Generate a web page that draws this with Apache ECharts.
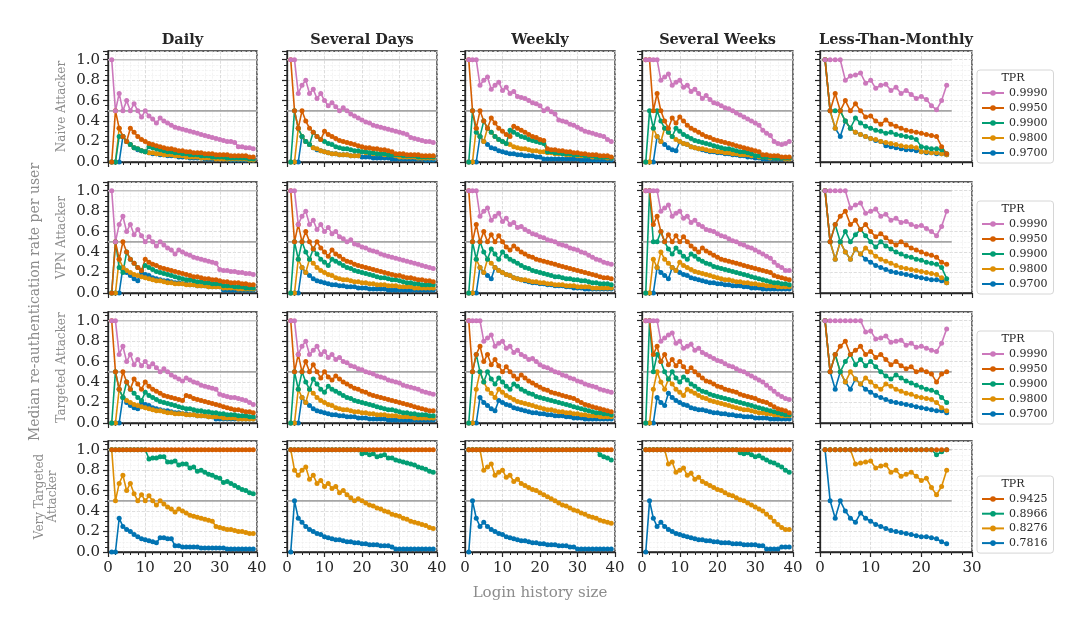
<!DOCTYPE html>
<html>
<head>
<meta charset="utf-8">
<script src="https://cdn.jsdelivr.net/npm/echarts@6/dist/echarts.min.js"></script>
<style>
  html, body { margin: 0; padding: 0; background: #fff; }
  #chart { width: 1076px; height: 626px; }
</style>
</head>
<body>
<div id="chart"></div>
<script>
// column / row headings
const columnTitles = ['Daily', 'Several Days', 'Weekly', 'Several Weeks', 'Less-Than-Monthly'];
const rowTitles = ['Naive Attacker', 'VPN Attacker', 'Targeted Attacker', 'Very Targeted\nAttacker'];
const tprNames = ['0.9990', '0.9950', '0.9900', '0.9800', '0.9700'];
const tprNamesVeryTargeted = ['0.9425', '0.8966', '0.8276', '0.7816'];
const refLevels = [1.0, 0.5];

// each panel: one list per TPR (legend order), value at login history size 1, 2, 3, ...
const naiveDaily = [
  [1,0.5,0.67,0.5,0.6,0.5,0.57,0.5,0.44,0.5,0.45,0.42,0.38,0.43,0.4,0.38,0.36,0.34,0.33,0.32,0.31,0.3,0.29,0.28,0.27,0.26,0.25,0.24,0.23,0.22,0.21,0.2,0.2,0.19,0.15,0.15,0.14,0.14,0.13],
  [0,0.5,0.33,0.25,0.2,0.33,0.29,0.25,0.22,0.2,0.18,0.17,0.16,0.15,0.14,0.13,0.13,0.12,0.11,0.11,0.1,0.1,0.09,0.09,0.09,0.08,0.08,0.08,0.07,0.07,0.07,0.07,0.06,0.06,0.06,0.06,0.06,0.05,0.05],
  [0,0,0.25,0.25,0.2,0.17,0.14,0.13,0.11,0.1,0.15,0.14,0.13,0.12,0.11,0.1,0.1,0.09,0.09,0.08,0.08,0.07,0.07,0.07,0.06,0.06,0.06,0.05,0.05,0.05,0.05,0.04,0.04,0.04,0.04,0.04,0.04,0.03,0.03],
  [0,0,0.33,0.25,0.2,0.17,0.14,0.13,0.11,0.1,0.09,0.09,0.08,0.08,0.07,0.07,0.07,0.06,0.06,0.06,0.05,0.05,0.05,0.05,0.04,0.04,0.04,0.04,0.03,0.03,0.03,0.03,0.03,0.03,0.03,0.03,0.03,0.02,0.02],
  [0,0,0,0.25,0.2,0.17,0.14,0.12,0.11,0.1,0.09,0.08,0.08,0.07,0.07,0.06,0.06,0.06,0.05,0.05,0.05,0.04,0.04,0.04,0.04,0.03,0.03,0.03,0.03,0.03,0.03,0.03,0.02,0.02,0.02,0.02,0.02,0.02,0.02]
];
const naiveSeveralDays = [
  [1,1,0.67,0.75,0.8,0.67,0.71,0.62,0.67,0.6,0.55,0.58,0.54,0.5,0.53,0.5,0.47,0.45,0.43,0.41,0.39,0.38,0.36,0.35,0.34,0.33,0.32,0.31,0.3,0.29,0.28,0.27,0.24,0.23,0.22,0.21,0.2,0.2,0.19],
  [1,0.5,0.33,0.5,0.4,0.33,0.29,0.25,0.22,0.3,0.27,0.25,0.23,0.21,0.2,0.19,0.18,0.17,0.16,0.15,0.14,0.14,0.13,0.13,0.12,0.12,0.11,0.1,0.08,0.08,0.08,0.07,0.07,0.07,0.07,0.06,0.06,0.06,0.06],
  [0,0.5,0.33,0.25,0.2,0.17,0.29,0.25,0.22,0.2,0.18,0.17,0.15,0.14,0.13,0.13,0.12,0.11,0.11,0.1,0.1,0.09,0.09,0.08,0.08,0.08,0.07,0.07,0.07,0.07,0.06,0.06,0.06,0.06,0.05,0.05,0.05,0.05,0.05],
  [0,0,0.33,0.25,0.2,0.17,0.14,0.13,0.11,0.1,0.09,0.08,0.08,0.07,0.07,0.07,0.06,0.06,0.06,0.1,0.09,0.09,0.08,0.08,0.08,0.07,0.07,0.07,0.06,0.05,0.05,0.05,0.05,0.05,0.04,0.04,0.04,0.04,0.04],
  [0,0,0,0.25,0.2,0.17,0.14,0.12,0.11,0.1,0.09,0.08,0.08,0.07,0.07,0.07,0.06,0.06,0.06,0.05,0.05,0.05,0.04,0.04,0.04,0.04,0.04,0.03,0.03,0.03,0.03,0.03,0.03,0.03,0.03,0.03,0.02,0.02,0.02]
];
const naiveWeekly = [
  [1,1,1,0.75,0.8,0.83,0.71,0.75,0.78,0.7,0.73,0.67,0.69,0.64,0.63,0.62,0.6,0.58,0.57,0.55,0.5,0.52,0.49,0.47,0.41,0.4,0.39,0.37,0.36,0.34,0.32,0.3,0.29,0.28,0.27,0.26,0.25,0.22,0.2],
  [1,0.5,0.33,0.5,0.4,0.33,0.43,0.38,0.33,0.3,0.27,0.25,0.35,0.33,0.31,0.29,0.27,0.25,0.24,0.22,0.21,0.13,0.12,0.12,0.11,0.11,0.1,0.1,0.09,0.09,0.08,0.08,0.07,0.07,0.07,0.06,0.06,0.06,0.05],
  [0,0.5,0.29,0.25,0.4,0.33,0.29,0.25,0.22,0.2,0.18,0.31,0.29,0.27,0.25,0.24,0.22,0.21,0.2,0.19,0.18,0.1,0.1,0.09,0.09,0.08,0.08,0.08,0.07,0.07,0.07,0.06,0.06,0.06,0.05,0.05,0.05,0.05,0.04],
  [0,0,0.33,0.25,0.2,0.33,0.29,0.25,0.22,0.2,0.18,0.17,0.15,0.14,0.13,0.13,0.12,0.11,0.11,0.1,0.1,0.09,0.09,0.08,0.08,0.08,0.07,0.07,0.07,0.06,0.06,0.06,0.06,0.05,0.05,0.05,0.05,0.04,0.04],
  [0,0,0,0.25,0.2,0.17,0.14,0.13,0.11,0.1,0.09,0.08,0.08,0.07,0.07,0.06,0.06,0.06,0.05,0.05,0.03,0.03,0.03,0.03,0.03,0.03,0.03,0.03,0.03,0.03,0.02,0.02,0.02,0.02,0.02,0.02,0.02,0.02,0.02]
];
const naiveSeveralWeeks = [
  [1,1,1,1,0.8,0.83,0.86,0.75,0.78,0.8,0.73,0.75,0.69,0.71,0.67,0.62,0.65,0.61,0.58,0.57,0.55,0.53,0.52,0.5,0.48,0.46,0.44,0.42,0.4,0.38,0.36,0.31,0.28,0.26,0.2,0.18,0.17,0.18,0.2],
  [1,1,0.5,0.67,0.5,0.4,0.33,0.43,0.38,0.44,0.4,0.36,0.33,0.31,0.29,0.27,0.25,0.24,0.22,0.21,0.2,0.19,0.18,0.17,0.16,0.15,0.14,0.13,0.12,0.11,0.1,0.07,0.07,0.06,0.06,0.06,0.05,0.05,0.05],
  [0,0.5,0.33,0.5,0.4,0.33,0.29,0.25,0.33,0.3,0.27,0.25,0.23,0.21,0.2,0.19,0.18,0.17,0.16,0.15,0.14,0.13,0.13,0.12,0.11,0.1,0.1,0.09,0.08,0.06,0.06,0.05,0.05,0.05,0.04,0.04,0.04,0.04,0.04],
  [0,0,0.33,0.25,0.2,0.33,0.29,0.25,0.22,0.2,0.18,0.17,0.15,0.14,0.13,0.13,0.12,0.11,0.11,0.1,0.1,0.09,0.09,0.08,0.08,0.07,0.07,0.07,0.06,0.06,0.05,0.05,0.05,0.04,0.04,0.04,0.04,0.03,0.03],
  [0,0,0,0.25,0.2,0.17,0.14,0.12,0.11,0.2,0.18,0.17,0.15,0.14,0.13,0.12,0.11,0.1,0.1,0.09,0.09,0.08,0.08,0.07,0.07,0.06,0.06,0.05,0.05,0.04,0.04,0.03,0.03,0.03,0.03,0.03,0.03,0.03,0.03]
];
const naiveMonthly = [
  [1,1,1,1,0.8,0.84,0.85,0.87,0.77,0.8,0.72,0.75,0.76,0.7,0.73,0.67,0.7,0.66,0.62,0.64,0.61,0.55,0.51,0.6,0.75],
  [1,0.5,0.67,0.5,0.6,0.5,0.57,0.5,0.44,0.45,0.4,0.37,0.41,0.37,0.35,0.33,0.31,0.3,0.29,0.28,0.27,0.26,0.25,0.15,0.08],
  [1,0.5,0.5,0.5,0.4,0.33,0.43,0.38,0.35,0.33,0.31,0.3,0.28,0.29,0.27,0.26,0.25,0.24,0.22,0.15,0.14,0.13,0.13,0.12,0.08],
  [1,0.5,0.33,0.5,0.4,0.33,0.29,0.27,0.25,0.23,0.22,0.2,0.19,0.18,0.17,0.16,0.15,0.15,0.14,0.1,0.1,0.09,0.09,0.08,0.07],
  [1,0.5,0.33,0.25,0.4,0.33,0.29,0.27,0.25,0.23,0.21,0.2,0.16,0.15,0.14,0.13,0.12,0.12,0.11,0.1,0.09,0.09,0.08,0.08,0.07]
];

const vpnDaily = [
  [1,0.5,0.67,0.75,0.6,0.67,0.57,0.62,0.56,0.5,0.55,0.5,0.46,0.5,0.47,0.44,0.42,0.38,0.42,0.4,0.38,0.37,0.35,0.34,0.33,0.32,0.31,0.3,0.29,0.23,0.22,0.22,0.21,0.21,0.2,0.2,0.19,0.19,0.18],
  [0,0.5,0.33,0.5,0.4,0.33,0.29,0.25,0.22,0.33,0.3,0.28,0.27,0.25,0.24,0.23,0.22,0.21,0.2,0.19,0.18,0.17,0.16,0.16,0.15,0.14,0.14,0.13,0.13,0.12,0.11,0.11,0.1,0.1,0.1,0.09,0.09,0.08,0.08],
  [0,0.5,0.25,0.2,0.4,0.33,0.29,0.25,0.22,0.27,0.25,0.23,0.21,0.2,0.19,0.18,0.17,0.16,0.15,0.14,0.13,0.13,0.12,0.11,0.11,0.1,0.1,0.09,0.09,0.09,0.07,0.07,0.07,0.06,0.06,0.06,0.05,0.05,0.05],
  [0,0,0.33,0.25,0.22,0.2,0.18,0.17,0.16,0.15,0.14,0.13,0.12,0.12,0.11,0.1,0.1,0.09,0.09,0.09,0.08,0.08,0.08,0.07,0.07,0.07,0.06,0.06,0.06,0.06,0.05,0.05,0.05,0.05,0.04,0.04,0.04,0.04,0.04],
  [0,0,0,0.25,0.2,0.17,0.14,0.12,0.2,0.18,0.17,0.15,0.14,0.13,0.12,0.12,0.11,0.1,0.1,0.09,0.09,0.08,0.08,0.07,0.07,0.07,0.06,0.06,0.06,0.06,0.03,0.03,0.03,0.03,0.03,0.03,0.03,0.03,0.03]
];
const vpnSeveralDays = [
  [1,1,0.67,0.75,0.8,0.67,0.71,0.62,0.67,0.6,0.64,0.58,0.6,0.55,0.53,0.5,0.52,0.48,0.47,0.45,0.44,0.42,0.41,0.4,0.38,0.37,0.36,0.35,0.34,0.33,0.32,0.31,0.3,0.29,0.28,0.27,0.26,0.25,0.24],
  [1,0.5,0.67,0.5,0.6,0.5,0.43,0.5,0.44,0.4,0.36,0.42,0.38,0.36,0.33,0.31,0.3,0.28,0.27,0.26,0.25,0.24,0.23,0.22,0.21,0.2,0.19,0.18,0.17,0.17,0.16,0.15,0.15,0.14,0.13,0.13,0.12,0.12,0.11],
  [0,0.5,0.33,0.5,0.4,0.33,0.43,0.38,0.33,0.3,0.27,0.33,0.31,0.29,0.27,0.25,0.24,0.22,0.21,0.2,0.19,0.18,0.17,0.16,0.15,0.15,0.14,0.13,0.13,0.12,0.11,0.1,0.1,0.09,0.09,0.08,0.08,0.08,0.08],
  [0,0,0.33,0.25,0.2,0.33,0.29,0.25,0.22,0.2,0.18,0.17,0.15,0.14,0.13,0.13,0.12,0.11,0.11,0.1,0.1,0.09,0.09,0.08,0.08,0.08,0.07,0.07,0.07,0.06,0.06,0.06,0.06,0.05,0.05,0.05,0.05,0.05,0.05],
  [0,0,0,0.25,0.2,0.17,0.14,0.12,0.11,0.1,0.09,0.08,0.08,0.07,0.07,0.06,0.06,0.06,0.05,0.05,0.05,0.04,0.04,0.04,0.04,0.04,0.03,0.03,0.03,0.03,0.03,0.03,0.03,0.03,0.03,0.03,0.03,0.03,0.03]
];
const vpnWeekly = [
  [1,1,1,0.75,0.8,0.83,0.71,0.75,0.78,0.7,0.73,0.67,0.69,0.64,0.65,0.62,0.6,0.58,0.57,0.55,0.54,0.52,0.51,0.5,0.48,0.47,0.46,0.44,0.43,0.42,0.4,0.39,0.37,0.35,0.33,0.32,0.3,0.29,0.28],
  [1,0.5,0.67,0.5,0.6,0.5,0.57,0.5,0.56,0.5,0.45,0.42,0.46,0.43,0.4,0.38,0.36,0.35,0.33,0.32,0.31,0.3,0.29,0.28,0.27,0.26,0.25,0.24,0.23,0.22,0.21,0.2,0.19,0.18,0.17,0.16,0.15,0.15,0.14],
  [0,0.5,0.33,0.5,0.4,0.33,0.43,0.38,0.33,0.4,0.36,0.33,0.31,0.29,0.27,0.25,0.24,0.22,0.21,0.2,0.19,0.18,0.17,0.16,0.16,0.15,0.14,0.14,0.13,0.13,0.12,0.12,0.11,0.1,0.1,0.09,0.09,0.09,0.08],
  [0,0,0.33,0.25,0.2,0.33,0.29,0.25,0.22,0.2,0.18,0.17,0.15,0.14,0.13,0.13,0.12,0.11,0.11,0.1,0.1,0.09,0.09,0.08,0.08,0.08,0.07,0.07,0.07,0.06,0.06,0.06,0.06,0.05,0.05,0.05,0.05,0.05,0.05],
  [0,0,0,0.25,0.2,0.17,0.14,0.25,0.22,0.2,0.18,0.17,0.15,0.14,0.13,0.12,0.11,0.1,0.1,0.09,0.09,0.08,0.08,0.07,0.07,0.07,0.06,0.06,0.05,0.05,0.05,0.04,0.04,0.04,0.04,0.04,0.04,0.04,0.04]
];
const vpnSeveralWeeks = [
  [1,1,1,1,0.8,0.83,0.86,0.75,0.78,0.8,0.73,0.75,0.69,0.71,0.67,0.65,0.62,0.61,0.6,0.58,0.56,0.55,0.53,0.51,0.5,0.48,0.47,0.45,0.44,0.42,0.4,0.38,0.36,0.34,0.3,0.27,0.25,0.22,0.22],
  [1,1,0.67,0.75,0.6,0.5,0.57,0.5,0.56,0.5,0.55,0.5,0.46,0.43,0.4,0.44,0.41,0.39,0.37,0.35,0.33,0.32,0.31,0.3,0.29,0.28,0.27,0.26,0.25,0.24,0.23,0.22,0.21,0.2,0.17,0.16,0.15,0.14,0.13],
  [0,1,0.5,0.5,0.6,0.5,0.43,0.38,0.44,0.4,0.36,0.33,0.38,0.36,0.33,0.31,0.29,0.28,0.26,0.25,0.24,0.23,0.22,0.21,0.2,0.19,0.18,0.17,0.16,0.15,0.14,0.13,0.12,0.11,0.1,0.1,0.09,0.09,0.08],
  [0,0,0.33,0.25,0.4,0.33,0.29,0.25,0.22,0.3,0.27,0.25,0.23,0.21,0.2,0.19,0.18,0.17,0.16,0.15,0.14,0.13,0.13,0.12,0.11,0.11,0.1,0.1,0.09,0.09,0.08,0.08,0.07,0.07,0.07,0.06,0.06,0.06,0.06],
  [0,0,0,0.25,0.2,0.17,0.14,0.25,0.22,0.2,0.18,0.17,0.15,0.14,0.13,0.12,0.11,0.1,0.1,0.09,0.09,0.08,0.08,0.07,0.07,0.07,0.06,0.06,0.05,0.05,0.05,0.04,0.04,0.04,0.04,0.04,0.04,0.04,0.04]
];
const vpnMonthly = [
  [1,1,1,1,1,0.83,0.86,0.88,0.78,0.8,0.82,0.75,0.77,0.71,0.73,0.69,0.7,0.67,0.65,0.66,0.63,0.6,0.56,0.65,0.8],
  [1,0.5,0.67,0.75,0.8,0.67,0.71,0.62,0.67,0.6,0.55,0.58,0.54,0.5,0.47,0.5,0.47,0.44,0.42,0.4,0.38,0.37,0.35,0.3,0.28],
  [1,0.5,0.67,0.5,0.6,0.5,0.57,0.62,0.56,0.5,0.45,0.5,0.46,0.43,0.4,0.38,0.36,0.35,0.33,0.32,0.3,0.29,0.28,0.25,0.14],
  [1,0.5,0.33,0.5,0.4,0.33,0.43,0.38,0.44,0.4,0.36,0.33,0.31,0.29,0.27,0.25,0.24,0.23,0.22,0.21,0.2,0.19,0.18,0.15,0.1],
  [1,0.5,0.33,0.5,0.4,0.33,0.43,0.38,0.33,0.3,0.27,0.25,0.23,0.21,0.2,0.19,0.18,0.17,0.16,0.15,0.14,0.13,0.13,0.12,0.1]
];

const targetedDaily = [
  [1,1,0.67,0.75,0.6,0.67,0.57,0.62,0.56,0.6,0.55,0.58,0.54,0.5,0.53,0.5,0.47,0.45,0.43,0.41,0.44,0.42,0.4,0.39,0.37,0.36,0.35,0.34,0.33,0.28,0.27,0.26,0.25,0.25,0.24,0.23,0.22,0.2,0.18],
  [1,0.5,0.33,0.5,0.4,0.33,0.43,0.38,0.33,0.4,0.36,0.33,0.31,0.29,0.27,0.26,0.25,0.24,0.23,0.22,0.27,0.26,0.24,0.23,0.22,0.21,0.2,0.19,0.18,0.17,0.16,0.15,0.14,0.13,0.13,0.12,0.11,0.11,0.1],
  [0,0.5,0.33,0.25,0.4,0.33,0.29,0.25,0.22,0.3,0.27,0.25,0.23,0.21,0.2,0.19,0.18,0.17,0.16,0.15,0.14,0.14,0.13,0.12,0.12,0.11,0.11,0.1,0.1,0.09,0.09,0.08,0.08,0.08,0.07,0.07,0.07,0.06,0.06],
  [0,0,0.33,0.25,0.22,0.2,0.18,0.17,0.16,0.15,0.14,0.13,0.12,0.12,0.11,0.1,0.1,0.09,0.09,0.09,0.08,0.08,0.08,0.07,0.07,0.07,0.06,0.06,0.06,0.06,0.05,0.05,0.05,0.05,0.04,0.04,0.04,0.04,0.04],
  [0,0,0,0.25,0.2,0.17,0.15,0.14,0.2,0.18,0.17,0.15,0.14,0.13,0.12,0.12,0.11,0.1,0.1,0.09,0.09,0.08,0.08,0.07,0.07,0.07,0.06,0.06,0.04,0.04,0.04,0.04,0.04,0.04,0.04,0.04,0.04,0.04,0.04]
];
const targetedSeveralDays = [
  [1,1,0.67,0.75,0.8,0.67,0.71,0.75,0.67,0.7,0.64,0.67,0.62,0.64,0.6,0.59,0.56,0.55,0.53,0.52,0.5,0.49,0.48,0.46,0.45,0.44,0.42,0.41,0.4,0.39,0.37,0.36,0.35,0.34,0.33,0.31,0.3,0.29,0.28],
  [1,0.5,0.67,0.5,0.6,0.5,0.57,0.5,0.44,0.5,0.45,0.42,0.46,0.43,0.4,0.38,0.36,0.34,0.33,0.31,0.3,0.28,0.27,0.26,0.25,0.24,0.23,0.22,0.21,0.2,0.19,0.18,0.17,0.16,0.15,0.14,0.13,0.12,0.12],
  [0,0.5,0.33,0.5,0.4,0.33,0.43,0.38,0.33,0.3,0.36,0.33,0.31,0.29,0.27,0.25,0.24,0.22,0.21,0.2,0.19,0.18,0.17,0.16,0.15,0.14,0.13,0.13,0.12,0.11,0.1,0.1,0.09,0.09,0.08,0.08,0.08,0.07,0.07],
  [0,0,0.33,0.25,0.2,0.33,0.29,0.25,0.22,0.2,0.18,0.17,0.15,0.14,0.13,0.13,0.12,0.11,0.11,0.1,0.1,0.09,0.09,0.08,0.08,0.08,0.07,0.07,0.07,0.06,0.06,0.06,0.06,0.05,0.05,0.05,0.05,0.05,0.05],
  [0,0,0,0.25,0.2,0.17,0.14,0.12,0.11,0.1,0.09,0.08,0.08,0.07,0.07,0.06,0.06,0.06,0.05,0.05,0.05,0.04,0.04,0.04,0.04,0.04,0.03,0.03,0.03,0.03,0.03,0.03,0.03,0.03,0.03,0.03,0.03,0.03,0.03]
];
const targetedWeekly = [
  [1,1,1,1,0.8,0.83,0.86,0.75,0.78,0.8,0.73,0.75,0.69,0.71,0.67,0.65,0.62,0.63,0.6,0.57,0.55,0.54,0.52,0.5,0.49,0.47,0.46,0.44,0.43,0.41,0.4,0.38,0.37,0.36,0.35,0.33,0.32,0.31,0.3],
  [1,0.5,0.67,0.75,0.6,0.67,0.57,0.62,0.56,0.5,0.55,0.5,0.46,0.43,0.47,0.44,0.41,0.39,0.37,0.35,0.33,0.32,0.3,0.29,0.28,0.27,0.26,0.25,0.24,0.22,0.2,0.18,0.17,0.16,0.15,0.14,0.13,0.12,0.11],
  [0,0.5,0.67,0.5,0.4,0.5,0.43,0.38,0.44,0.4,0.36,0.33,0.38,0.36,0.33,0.31,0.29,0.28,0.26,0.25,0.24,0.23,0.22,0.21,0.2,0.19,0.18,0.17,0.16,0.15,0.14,0.13,0.12,0.11,0.1,0.1,0.09,0.09,0.08],
  [0,0,0.33,0.5,0.4,0.33,0.29,0.25,0.33,0.3,0.27,0.25,0.23,0.21,0.2,0.19,0.18,0.17,0.16,0.15,0.14,0.13,0.13,0.12,0.11,0.11,0.1,0.1,0.09,0.09,0.08,0.08,0.07,0.07,0.07,0.06,0.06,0.06,0.06],
  [0,0,0,0.25,0.2,0.17,0.14,0.12,0.22,0.2,0.18,0.17,0.15,0.14,0.13,0.12,0.11,0.1,0.1,0.09,0.09,0.08,0.08,0.07,0.07,0.07,0.06,0.06,0.05,0.05,0.05,0.04,0.04,0.04,0.04,0.04,0.04,0.04,0.04]
];
const targetedSeveralWeeks = [
  [1,1,1,1,0.8,0.83,0.86,0.88,0.78,0.8,0.73,0.75,0.77,0.71,0.73,0.69,0.67,0.65,0.63,0.61,0.6,0.58,0.56,0.55,0.53,0.51,0.5,0.48,0.46,0.44,0.42,0.4,0.37,0.34,0.31,0.28,0.26,0.24,0.23],
  [1,1,0.67,0.75,0.6,0.67,0.57,0.62,0.56,0.6,0.55,0.5,0.54,0.5,0.47,0.44,0.41,0.4,0.38,0.36,0.35,0.33,0.32,0.31,0.3,0.28,0.27,0.26,0.25,0.24,0.22,0.21,0.2,0.18,0.16,0.14,0.13,0.12,0.1],
  [0,1,0.5,0.67,0.6,0.5,0.43,0.5,0.44,0.4,0.45,0.42,0.38,0.36,0.33,0.31,0.3,0.28,0.27,0.26,0.25,0.24,0.23,0.22,0.21,0.2,0.19,0.18,0.17,0.16,0.15,0.14,0.13,0.12,0.11,0.1,0.09,0.08,0.08],
  [0,0,0.33,0.5,0.4,0.33,0.43,0.38,0.33,0.3,0.27,0.33,0.31,0.29,0.27,0.25,0.24,0.22,0.21,0.2,0.19,0.18,0.17,0.16,0.15,0.14,0.13,0.13,0.12,0.11,0.1,0.1,0.09,0.09,0.08,0.08,0.07,0.07,0.07],
  [0,0,0,0.25,0.2,0.17,0.29,0.25,0.22,0.2,0.18,0.17,0.15,0.14,0.13,0.13,0.12,0.11,0.1,0.1,0.09,0.09,0.08,0.08,0.07,0.07,0.06,0.06,0.06,0.05,0.05,0.05,0.05,0.04,0.04,0.04,0.04,0.04,0.04]
];
const targetedMonthly = [
  [1,1,1,1,1,1,1,1,0.89,0.9,0.82,0.83,0.85,0.79,0.8,0.81,0.76,0.78,0.74,0.75,0.73,0.71,0.7,0.78,0.92],
  [1,0.5,0.67,0.75,0.8,0.67,0.71,0.75,0.67,0.7,0.64,0.67,0.62,0.57,0.6,0.56,0.53,0.55,0.5,0.52,0.5,0.48,0.4,0.48,0.5],
  [1,0.5,0.67,0.5,0.6,0.67,0.57,0.62,0.56,0.6,0.55,0.5,0.46,0.43,0.47,0.44,0.41,0.39,0.37,0.35,0.33,0.32,0.3,0.25,0.2],
  [1,0.5,0.67,0.5,0.4,0.5,0.43,0.38,0.44,0.4,0.36,0.33,0.38,0.36,0.33,0.31,0.29,0.28,0.26,0.25,0.24,0.23,0.2,0.15,0.12],
  [1,0.5,0.33,0.5,0.4,0.33,0.43,0.38,0.33,0.3,0.27,0.25,0.23,0.21,0.2,0.19,0.18,0.17,0.16,0.15,0.14,0.13,0.12,0.12,0.1]
];

const veryTargetedDaily = [
  [1,1,1,1,1,1,1,1,1,1,1,1,1,1,1,1,1,1,1,1,1,1,1,1,1,1,1,1,1,1,1,1,1,1,1,1,1,1,1],
  [1,1,1,1,1,1,1,1,1,1,0.91,0.92,0.92,0.93,0.93,0.88,0.88,0.89,0.85,0.86,0.86,0.82,0.83,0.79,0.8,0.78,0.76,0.75,0.73,0.72,0.68,0.69,0.67,0.65,0.63,0.61,0.6,0.58,0.57],
  [1,0.5,0.67,0.75,0.6,0.67,0.57,0.5,0.56,0.5,0.55,0.5,0.46,0.5,0.47,0.44,0.42,0.39,0.42,0.4,0.38,0.36,0.35,0.34,0.33,0.32,0.31,0.3,0.25,0.24,0.23,0.22,0.22,0.21,0.2,0.2,0.19,0.18,0.18],
  [0,0,0.33,0.25,0.22,0.2,0.17,0.15,0.13,0.12,0.11,0.1,0.09,0.14,0.14,0.13,0.13,0.06,0.06,0.05,0.05,0.05,0.05,0.05,0.04,0.04,0.04,0.04,0.04,0.04,0.04,0.03,0.03,0.03,0.03,0.03,0.03,0.03,0.03]
];
const veryTargetedSeveralDays = [
  [1,1,1,1,1,1,1,1,1,1,1,1,1,1,1,1,1,1,1,1,1,1,1,1,1,1,1,1,1,1,1,1,1,1,1,1,1,1,1],
  [1,1,1,1,1,1,1,1,1,1,1,1,1,1,1,1,1,1,1,0.96,0.97,0.95,0.96,0.93,0.94,0.95,0.92,0.92,0.9,0.89,0.88,0.87,0.86,0.85,0.83,0.82,0.81,0.79,0.78],
  [1,0.8,0.75,0.8,0.83,0.71,0.75,0.67,0.7,0.64,0.67,0.62,0.64,0.58,0.6,0.56,0.53,0.5,0.52,0.5,0.48,0.46,0.45,0.43,0.42,0.4,0.39,0.37,0.36,0.35,0.33,0.32,0.3,0.29,0.28,0.27,0.26,0.24,0.23],
  [0,0.5,0.33,0.29,0.25,0.22,0.2,0.18,0.17,0.15,0.14,0.13,0.12,0.12,0.11,0.1,0.1,0.09,0.09,0.08,0.08,0.07,0.07,0.07,0.06,0.06,0.06,0.05,0.03,0.03,0.03,0.03,0.03,0.03,0.03,0.03,0.03,0.03,0.03]
];
const veryTargetedWeekly = [
  [1,1,1,1,1,1,1,1,1,1,1,1,1,1,1,1,1,1,1,1,1,1,1,1,1,1,1,1,1,1,1,1,1,1,1,1,1,1,1],
  [1,1,1,1,1,1,1,1,1,1,1,1,1,1,1,1,1,1,1,1,1,1,1,1,1,1,1,1,1,1,1,1,1,1,1,0.95,0.93,0.92,0.9],
  [1,1,1,1,0.8,0.83,0.86,0.75,0.78,0.8,0.73,0.75,0.69,0.71,0.67,0.65,0.63,0.61,0.6,0.58,0.56,0.54,0.52,0.5,0.48,0.46,0.45,0.43,0.41,0.4,0.38,0.37,0.35,0.34,0.33,0.31,0.3,0.29,0.28],
  [0,0.5,0.33,0.25,0.29,0.25,0.22,0.2,0.18,0.17,0.15,0.14,0.13,0.12,0.11,0.11,0.1,0.09,0.09,0.08,0.08,0.07,0.07,0.07,0.06,0.06,0.06,0.05,0.05,0.03,0.03,0.03,0.03,0.03,0.03,0.03,0.03,0.03,0.03]
];
const veryTargetedSeveralWeeks = [
  [1,1,1,1,1,1,1,1,1,1,1,1,1,1,1,1,1,1,1,1,1,1,1,1,1,1,1,1,1,1,1,1,1,1,1,1,1,1,1],
  [1,1,1,1,1,1,1,1,1,1,1,1,1,1,1,1,1,1,1,1,1,1,1,1,1,0.97,0.96,0.97,0.95,0.93,0.94,0.92,0.9,0.88,0.87,0.85,0.83,0.8,0.78],
  [1,1,1,1,1,1,0.86,0.88,0.78,0.8,0.82,0.75,0.77,0.71,0.73,0.69,0.67,0.65,0.63,0.61,0.6,0.58,0.56,0.55,0.53,0.51,0.5,0.48,0.46,0.44,0.42,0.4,0.37,0.34,0.3,0.27,0.24,0.22,0.22],
  [0,0.5,0.33,0.25,0.29,0.25,0.22,0.2,0.18,0.17,0.16,0.15,0.14,0.13,0.12,0.12,0.11,0.11,0.1,0.1,0.09,0.09,0.09,0.08,0.08,0.08,0.07,0.07,0.07,0.07,0.06,0.06,0.03,0.03,0.03,0.03,0.05,0.05,0.05]
];
const veryTargetedMonthly = [
  [1,1,1,1,1,1,1,1,1,1,1,1,1,1,1,1,1,1,1,1,1,1,1,1,1],
  [1,1,1,1,1,1,1,1,1,1,1,1,1,1,1,1,1,1,1,1,1,1,0.95,0.98,1],
  [1,1,1,1,1,1,0.86,0.87,0.88,0.89,0.82,0.84,0.85,0.78,0.8,0.74,0.76,0.78,0.74,0.7,0.72,0.63,0.56,0.64,0.8],
  [1,0.5,0.33,0.5,0.4,0.33,0.29,0.38,0.33,0.3,0.27,0.25,0.23,0.21,0.2,0.19,0.18,0.17,0.16,0.15,0.15,0.14,0.13,0.1,0.08]
];

const panels = [
  [naiveDaily, naiveSeveralDays, naiveWeekly, naiveSeveralWeeks, naiveMonthly],
  [vpnDaily, vpnSeveralDays, vpnWeekly, vpnSeveralWeeks, vpnMonthly],
  [targetedDaily, targetedSeveralDays, targetedWeekly, targetedSeveralWeeks, targetedMonthly],
  [veryTargetedDaily, veryTargetedSeveralDays, veryTargetedWeekly, veryTargetedSeveralWeeks, veryTargetedMonthly]
];
const xMaxByColumn = [40, 40, 40, 40, 30];

// colorblind palette
const tprColors = ['#cc78bc', '#d55e00', '#029e73', '#de8f05', '#0173b2'];
const veryTargetedColors = ['#d55e00', '#029e73', '#de8f05', '#0173b2'];

// layout (px)
const gridLefts = [108, 287, 465, 642, 820];
const gridWidths = [149, 150, 150, 151, 152];
const gridTops = [51, 182, 312, 441];
const gridHeight = 111;
const legendTops = [70, 201, 331, 476];
const serif = 'DejaVu Serif';
const ink = '#262626';
const faded = '#8c8c8c';

const grids = [], xAxes = [], yAxes = [], series = [], legends = [], graphics = [];

panels.forEach((row, r) => {
  const names = r === 3 ? tprNamesVeryTargeted : tprNames;
  const colors = r === 3 ? veryTargetedColors : tprColors;
  row.forEach((panel, c) => {
    const idx = grids.length;
    grids.push({
      left: gridLefts[c], top: gridTops[r], width: gridWidths[c], height: gridHeight,
      show: true, borderColor: ink, borderWidth: 1.3, backgroundColor: 'transparent'
    });
    xAxes.push({
      gridIndex: idx, type: 'value', min: 0, max: xMaxByColumn[c], interval: 10,
      axisLine: { show: true, onZero: false, lineStyle: { color: ink, width: 1.3 } },
      axisTick: { show: true, length: 5, lineStyle: { color: ink, width: 1.2 } },
      minorTick: { show: true, splitNumber: 5, length: 3, lineStyle: { color: ink, width: 1 } },
      axisLabel: { show: r === 3, fontFamily: serif, fontSize: 15, color: ink, margin: 9 },
      splitLine: { show: true, lineStyle: { color: '#d4d4d4', type: 'dashed', width: 0.8 } },
      minorSplitLine: { show: true, lineStyle: { color: '#ededed', type: 'dashed', width: 0.6 } }
    });
    yAxes.push({
      gridIndex: idx, type: 'value', min: 0, max: 1.085, interval: 0.2,
      axisLine: { show: true, onZero: false, lineStyle: { color: ink, width: 1.3 } },
      axisTick: { show: true, length: 5, lineStyle: { color: ink, width: 1.2 } },
      minorTick: { show: true, splitNumber: 4, length: 3, lineStyle: { color: ink, width: 1 } },
      axisLabel: {
        show: c === 0, fontFamily: serif, fontSize: 15, color: ink, margin: 8, showMaxLabel: false,
        formatter: v => v.toFixed(1)
      },
      splitLine: { show: true, lineStyle: { color: '#d4d4d4', type: 'dashed', width: 0.8 } },
      minorSplitLine: { show: true, lineStyle: { color: '#ededed', type: 'dashed', width: 0.6 } }
    });

    // reference levels, running one step past the last history size
    const xEnd = panel[0].length + 1;
    refLevels.forEach((lv, k) => {
      series.push({
        type: 'line', xAxisIndex: idx, yAxisIndex: idx, silent: true, symbol: 'none',
        lineStyle: { color: k === 0 ? '#c4c4c4' : '#a6a6a6', width: 1.6 },
        data: [[0, lv], [xEnd, lv]], z: 1
      });
    });

    // lowest TPR first so the highest one ends up on top
    for (let s = panel.length - 1; s >= 0; s--) {
      series.push({
        type: 'line', name: names[s], xAxisIndex: idx, yAxisIndex: idx,
        data: panel[s].map((v, i) => [i + 1, v]),
        symbol: 'circle', symbolSize: 5,
        lineStyle: { color: colors[s], width: 1.6 },
        itemStyle: { color: colors[s] },
        emphasis: { disabled: true }
      });
    }

    if (r === 0) {
      graphics.push({
        type: 'text', x: gridLefts[c] + gridWidths[c] / 2, y: 40,
        style: { text: columnTitles[c], font: 'bold 14.5px "DejaVu Serif"', fill: ink, align: 'center', verticalAlign: 'middle' }
      });
    }
  });

  legends.push({
    orient: 'vertical', left: 977, top: legendTops[r], data: names,
    itemWidth: 22, itemHeight: 7, itemGap: r === 3 ? 2.7 : 3,
    padding: [17, 6, 4, 4], selectedMode: false,
    backgroundColor: '#fff', borderColor: '#d6d6d6', borderWidth: 1, borderRadius: 3,
    textStyle: { fontFamily: serif, fontSize: 11, color: ink, lineHeight: 12 }
  });
  graphics.push({
    type: 'text', x: 1013, y: legendTops[r] + 8, z: 100,
    style: { text: 'TPR', font: '11px "DejaVu Serif"', fill: ink, align: 'center', verticalAlign: 'middle' }
  });

  graphics.push({
    type: 'text', x: r === 3 ? 46 : 62, y: gridTops[r] + gridHeight / 2, rotation: Math.PI / 2,
    style: { text: rowTitles[r], font: '12px "DejaVu Serif"', fill: faded, align: 'center', verticalAlign: 'middle', lineHeight: 13 }
  });
});

graphics.push({
  type: 'text', x: 35, y: 302, rotation: Math.PI / 2,
  style: { text: 'Median re-authentication rate per user', font: '14px "DejaVu Serif"', fill: faded, align: 'center', verticalAlign: 'middle' }
});
graphics.push({
  type: 'text', x: 540, y: 593,
  style: { text: 'Login history size', font: '15px "DejaVu Serif"', fill: faded, align: 'center', verticalAlign: 'middle' }
});

const chart = echarts.init(document.getElementById('chart'));
chart.setOption({
  animation: false,
  backgroundColor: '#fff',
  grid: grids,
  xAxis: xAxes,
  yAxis: yAxes,
  legend: legends,
  series: series,
  graphic: graphics
});
</script>
</body>
</html>
